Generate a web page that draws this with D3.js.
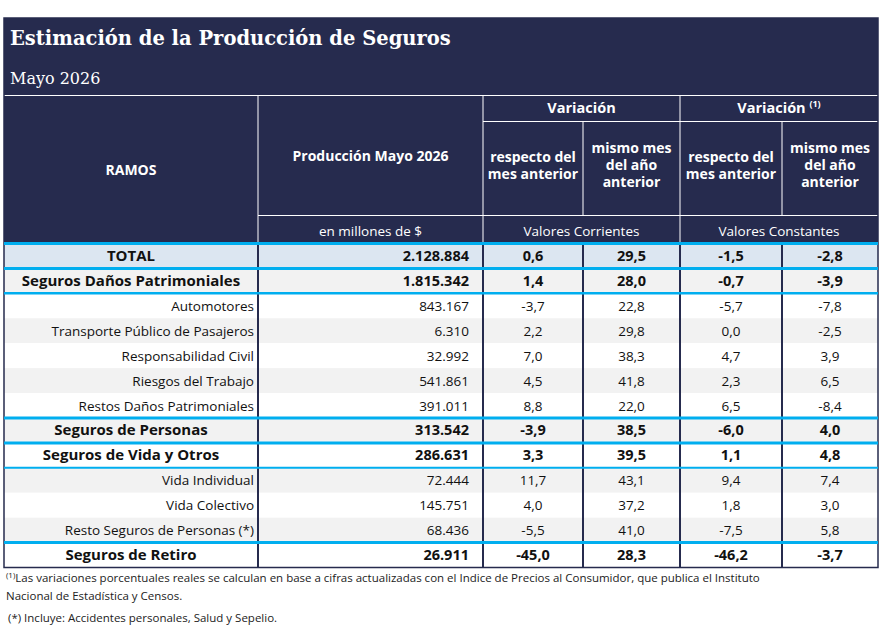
<!DOCTYPE html>
<html><head><meta charset="utf-8">
<script src="https://cdn.jsdelivr.net/npm/d3@7"></script>
<style>body{margin:0;background:#fff}</style>
</head><body>
<script>
var ramos = ["TOTAL","Seguros Daños Patrimoniales","Automotores","Transporte Público de Pasajeros","Responsabilidad Civil","Riesgos del Trabajo","Restos Daños Patrimoniales","Seguros de Personas","Seguros de Vida y Otros","Vida Individual","Vida Colectivo","Resto Seguros de Personas (*)","Seguros de Retiro"];
var nivel = [0,1,2,2,2,2,2,1,1,2,2,2,1]; // 0 total, 1 group (bold, centred), 2 item (right)
var produccion = ["2.128.884","1.815.342","843.167","6.310","32.992","541.861","391.011","313.542","286.631","72.444","145.751","68.436","26.911"];
var corrMes = ["0,6","1,4","-3,7","2,2","7,0","4,5","8,8","-3,9","3,3","11,7","4,0","-5,5","-45,0"];
var corrAnio = ["29,5","28,0","22,8","29,8","38,3","41,8","22,0","38,5","39,5","43,1","37,2","41,0","28,3"];
var constMes = ["-1,5","-0,7","-5,7","0,0","4,7","2,3","6,5","-6,0","1,1","9,4","1,8","-7,5","-46,2"];
var constAnio = ["-2,8","-3,9","-7,8","-2,5","3,9","6,5","-8,4","4,0","4,8","7,4","3,0","5,8","-3,7"];

var W = 885, H = 628, navy = "#262b4e", cyan = "#00aeef", font = "'Open Sans', sans-serif";
var svg = d3.select("body").append("svg").attr("width", W).attr("height", H).style("font-family", font);

var colEdges = [4, 258, 483, 583, 680, 782, 878];
var x = d3.scaleOrdinal().domain(d3.range(7)).range(colEdges);
var y = d3.scaleLinear().domain([0, ramos.length]).range([243.5, 567.5]);
var rowH = y(1) - y(0);

// header block
svg.append("rect").attr("x", 4).attr("y", 18).attr("width", 874).attr("height", 226).attr("fill", navy);
svg.append("text").attr("x", 10).attr("y", 45).attr("fill", "#fff").attr("font-family", "'DejaVu Serif', serif")
  .attr("font-weight", "bold").attr("font-size", 19.5).text("Estimación de la Producción de Seguros");
svg.append("text").attr("x", 10).attr("y", 84).attr("fill", "#fff").attr("font-family", "'DejaVu Serif', serif")
  .attr("font-size", 16).text("Mayo 2026");

var wl = function (x1, y1, x2, y2) {
  svg.append("line").attr("x1", x1).attr("y1", y1).attr("x2", x2).attr("y2", y2).attr("stroke", "#fff").attr("stroke-width", 1);
};
wl(4, 95.5, 878, 95.5);
wl(x(1), 95, x(1), 243); wl(x(2), 95, x(2), 243); wl(x(4), 95, x(4), 243);
wl(x(2), 121.5, 878, 121.5);
wl(x(3), 121, x(3), 215); wl(x(5), 121, x(5), 215);
wl(x(1), 215.5, 878, 215.5);

var ht = function (cx, cy, lines, opt) {
  opt = opt || {};
  var t = svg.append("text").attr("x", cx).attr("y", cy).attr("text-anchor", "middle").attr("fill", "#fff")
    .attr("font-size", opt.size || 14).attr("font-weight", opt.weight || "bold");
  lines.forEach(function (l, i) { t.append("tspan").attr("x", cx).attr("dy", i ? 17 : 0).text(l); });
  return t;
};
ht((x(0) + x(1)) / 2, 175, ["RAMOS"]);
ht((x(1) + x(2)) / 2, 161, ["Producción Mayo 2026"]);
ht((x(1) + x(2)) / 2, 236, ["en millones de $"], {weight: "normal", size: 13.5});
ht((x(2) + x(4)) / 2, 113, ["Variación"], {size: 14.5});
var v2 = ht((x(4) + x(6)) / 2, 113, ["Variación "], {size: 14.5});
v2.append("tspan").attr("font-size", 9).attr("dy", -6).text("(1)");
[[2, ["respecto del", "mes anterior"], 162], [3, ["mismo mes", "del año", "anterior"], 153],
 [4, ["respecto del", "mes anterior"], 162], [5, ["mismo mes", "del año", "anterior"], 153]].forEach(function (c) {
  ht((x(c[0]) + x(c[0] + 1)) / 2, c[2], c[1], {size: 14});
});
ht((x(2) + x(4)) / 2, 236, ["Valores Corrientes"], {weight: "normal", size: 13.5});
ht((x(4) + x(6)) / 2, 236, ["Valores Constantes"], {weight: "normal", size: 13.5});

// body rows
var fills = ramos.map(function (r, i) { return i === 0 ? "#dce6f1" : (i % 2 ? "#f2f2f2" : "#fff"); });
svg.selectAll("rect.row").data(ramos).join("rect").attr("class", "row")
  .attr("x", 4).attr("width", 874).attr("y", function (d, i) { return y(i); }).attr("height", rowH)
  .attr("fill", function (d, i) { return fills[i]; });

var cols = [produccion, corrMes, corrAnio, constMes, constAnio];
ramos.forEach(function (r, i) {
  var bold = nivel[i] < 2, by = y(i) + rowH / 2 + 5;
  svg.append("text").attr("y", by).attr("font-size", bold ? 15 : 13.5).attr("font-weight", bold ? "bold" : "normal")
    .attr("fill", "#111")
    .attr("x", bold ? (x(0) + x(1)) / 2 : x(1) - 4)
    .attr("text-anchor", bold ? "middle" : "end").text(r);
  cols.forEach(function (c, j) {
    var t = svg.append("text").attr("y", by).attr("font-size", bold ? 14.5 : 13.5).attr("font-weight", bold ? "bold" : "normal")
      .attr("fill", "#111").text(c[i]);
    if (j === 0) t.attr("x", x(2) - 14).attr("text-anchor", "end");
    else t.attr("x", (x(j + 1) + x(j + 2)) / 2).attr("text-anchor", "middle");
  });
});

// vertical rules in body and outer border
d3.range(1, 6).forEach(function (k) {
  svg.append("line").attr("x1", x(k)).attr("x2", x(k)).attr("y1", y(0)).attr("y2", y(ramos.length))
    .attr("stroke", navy).attr("stroke-width", 2);
});
svg.append("rect").attr("x", 4).attr("y", 18).attr("width", 874).attr("height", y(ramos.length) - 18)
  .attr("fill", "none").attr("stroke", navy).attr("stroke-width", 1.5);

// cyan separators
[[0, 3], [1, 3], [2, 2.5], [7, 3], [8, 3], [9, 2], [12, 3]].forEach(function (s) {
  svg.append("line").attr("x1", 4).attr("x2", 878).attr("y1", y(s[0])).attr("y2", y(s[0]))
    .attr("stroke", cyan).attr("stroke-width", s[1]);
});

// footnotes
var fn = svg.append("text").attr("x", 6).attr("y", 582).attr("font-size", 11.5).attr("fill", "#222");
fn.append("tspan").attr("font-size", 8).attr("dy", -4).text("(1)");
fn.append("tspan").attr("dy", 4).text("Las variaciones porcentuales reales se calculan en base a cifras actualizadas con  el Indice de Precios al Consumidor, que publica el Instituto");
svg.append("text").attr("x", 6).attr("y", 600).attr("font-size", 11.5).attr("fill", "#222").text("Nacional de Estadística y  Censos.");
svg.append("text").attr("x", 8).attr("y", 622).attr("font-size", 11.5).attr("fill", "#222").text("(*) Incluye: Accidentes personales, Salud y Sepelio.");
</script>
</body></html>
